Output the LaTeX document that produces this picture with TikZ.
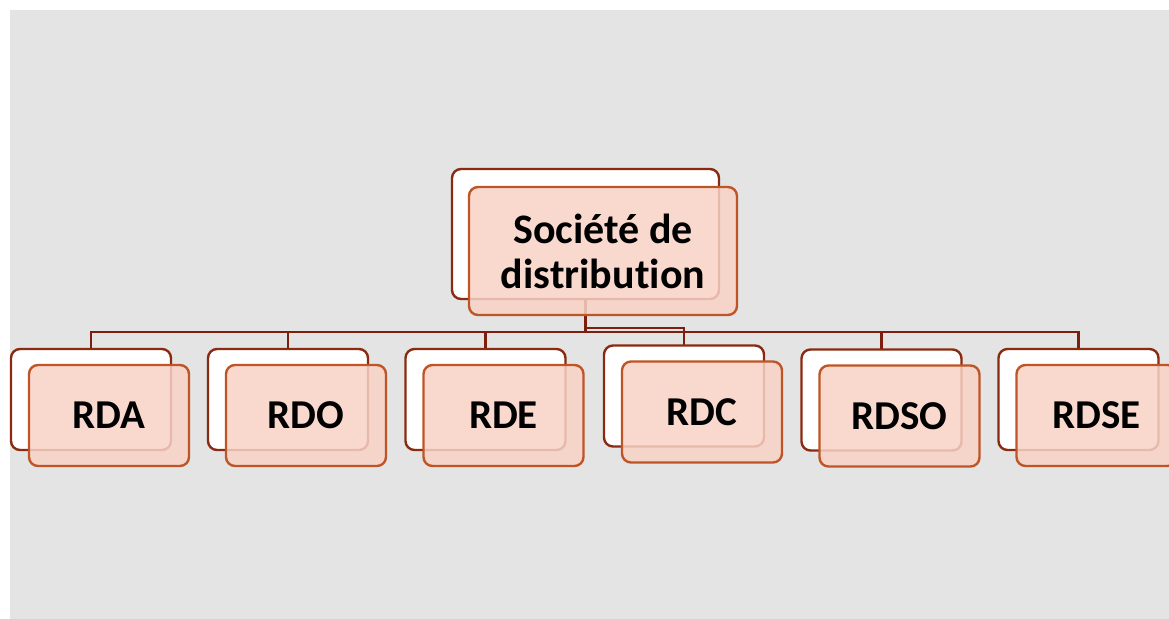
\documentclass[tikz,border=0pt]{standalone}
\usepackage{fontspec}
\setmainfont{Carlito}[Ligatures=NoCommon]
\definecolor{bg}{HTML}{E4E4E4}
\definecolor{backline}{HTML}{8A2A10}
\definecolor{frontline}{HTML}{BF5526}
\definecolor{frontfill}{HTML}{F8D3C6}
\definecolor{connline}{HTML}{7E1E0C}
\pgfdeclarelayer{background}
\pgfsetlayers{background,main}
\tikzset{
  backbox/.style={draw=backline, fill=white, line width=2.4bp, rounded corners=9bp,
    minimum width=160bp, minimum height=101bp, inner sep=0pt, outer sep=0pt},
  frontbox/.style={draw=frontline, fill=frontfill, fill opacity=0.85, text opacity=1,
    line width=2.4bp, rounded corners=9bp, minimum width=160bp, minimum height=101bp,
    inner sep=0pt, outer sep=0pt, align=center,
    font=\bfseries\fontsize{41bp}{45bp}\selectfont},
  conn/.style={draw=connline, line width=2.6bp}
}
\begin{document}
\begin{tikzpicture}[x=1bp,y=-1bp]
\useasboundingbox (0,0) rectangle (1169,619);

% top-level unit
\node[backbox, minimum width=267bp, minimum height=130bp] (topB) at (585.5,234) {};
\node[frontbox, minimum width=268bp, minimum height=128bp,
      font=\bfseries\fontsize{42bp}{45bp}\selectfont] (top) at (603,251) {Société de\\distribution};

% regional units: back card, then front card offset by (18,16)
\foreach \nm/\lbl/\x/\y in {rda/RDA/91/399.5, rdo/RDO/288/399.5, rde/RDE/485.5/399.5,
                            rdc/RDC/684/396, rdso/RDSO/881.5/400, rdse/RDSE/1078.5/399.5}{
  \node[backbox] (\nm B) at (\x,\y) {};
}
\foreach \nm/\lbl/\x/\y in {rda/RDA/91/399.5, rdo/RDO/288/399.5, rde/RDE/485.5/399.5,
                            rdc/RDC/684/396, rdso/RDSO/881.5/400, rdse/RDSE/1078.5/399.5}{
  \node[frontbox] (\nm) at (\x+18,\y+16) {\lbl};
}

\coordinate (bus) at (0,332);
\coordinate (step) at (0,328);

\begin{pgfonlayer}{background}
  \fill[white] (0,0) rectangle (1169,619);
  \fill[bg] (10,10) rectangle (1169,619);
  % horizontal bus and drops
  \draw[conn] (rdaB.north) -- (rdaB.north |- bus) -- (rdseB.north |- bus) -- (rdseB.north);
  \draw[conn] (topB.south) -- (topB.south |- bus);
  \foreach \nm in {rdo,rde,rdso}{
    \draw[conn] (\nm B.north) -- (\nm B.north |- bus);
  }
  \draw[conn] (topB.south |- step) -- (rdcB.north |- step) -- (rdcB.north);
\end{pgfonlayer}
\end{tikzpicture}
\end{document}
